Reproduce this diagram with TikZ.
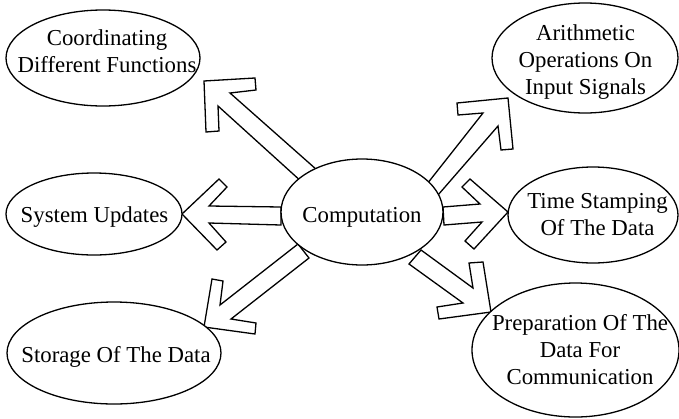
\documentclass[tikz,border=0pt]{standalone}
\usepackage{fontspec}
\setmainfont{Liberation Serif}
\newfontfamily\diagserif{Liberation Serif}
\usetikzlibrary{shapes.geometric}
\begin{document}
\begin{tikzpicture}[x=1pt,y=-1pt,
  bubble/.style={ellipse, draw, line width=1.3pt, fill=white, inner sep=0pt},
  txt/.style={font=\diagserif\fontsize{22.8}{27}\selectfont, align=center, inner sep=0pt, anchor=north},
  blockarrow/.style={draw, line width=1.3pt, fill=white, line join=miter}]
\useasboundingbox (0,0) rectangle (679,418);

% block arrows (drawn first, ellipses cover their bases)
\draw[blockarrow] (317,170) -- (230,93) -- (256,90) -- (255,78) -- (204,81) -- (206,132) -- (219,131) -- (218,106) -- (303,183) -- cycle;
\draw[blockarrow] (281,207) -- (209,206) -- (227,187) -- (219,179) -- (182,214) -- (217,250) -- (226,242) -- (209,223) -- (281,225) -- cycle;
\draw[blockarrow] (298,244) -- (220,305) -- (223,281) -- (212,279) -- (204,327) -- (255,334) -- (256,323) -- (231,319) -- (309,258) -- cycle;
\draw[blockarrow] (427,184) -- (483,113) -- (458,115) -- (457,103) -- (508,98) -- (513,149) -- (501,150) -- (498,126) -- (438,195) -- cycle;
\draw[blockarrow] (443,207) -- (480,204) -- (462,187) -- (470,179) -- (508,212) -- (474,249) -- (465,241) -- (482,222) -- (444,225) -- cycle;
\draw[blockarrow] (421,250) -- (473,288) -- (469,263) -- (483,262) -- (491,312) -- (439,319) -- (437,307) -- (463,303) -- (409,264) -- cycle;

% ellipses
\node[bubble, minimum width=194pt, minimum height=96pt]  (coord) at (103,58) {};
\node[bubble, minimum width=176pt, minimum height=82pt]  (sys)   at (94,214) {};
\node[bubble, minimum width=214pt, minimum height=102pt] (stor)  at (114,353) {};
\node[bubble, minimum width=162pt, minimum height=106pt] (comp)  at (362,212) {};
\node[bubble, minimum width=186pt, minimum height=110pt] (arith) at (585,58) {};
\node[bubble, minimum width=170pt, minimum height=96pt]  (time)  at (593,215) {};
\node[bubble, minimum width=207pt, minimum height=134pt] (prep)  at (575.5,350) {};

% texts
\node[txt] (coordtxt) at (107,29.5)  {Coordinating\\Different Functions};
\node[txt] (systxt)   at (94.5,206.5) {System Updates};
\node[txt] (stortxt)  at (116,346)   {Storage Of The Data};
\node[txt] (comptxt)  at (362,207.5) {Computation};
\node[txt] (arithtxt) at (585.5,24.5) {Arithmetic\\Operations On\\Input Signals};
\node[txt] (timetxt)  at (597.5,193.5) {Time Stamping\\Of The Data};
\node[txt] (preptxt)  at (580,314.5) {Preparation Of The\\Data For\\Communication};
\end{tikzpicture}
\end{document}
